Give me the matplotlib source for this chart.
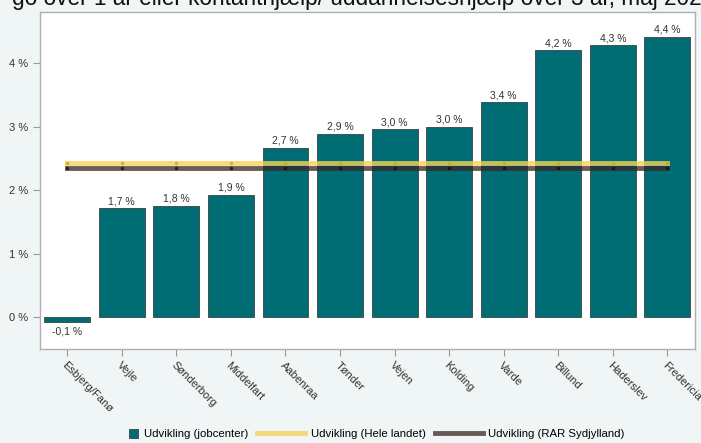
import matplotlib.pyplot as plt
import matplotlib.patches as mpatches
from matplotlib.lines import Line2D
from matplotlib.legend_handler import HandlerPatch

plt.rcParams['font.family'] = ['Liberation Sans', 'DejaVu Sans']

# data
kommuner = ['Esbjerg/Fanø', 'Vejle', 'Sønderborg', 'Middelfart', 'Aabenraa', 'Tønder',
            'Vejen', 'Kolding', 'Varde', 'Billund', 'Haderslev', 'Fredericia']
udv_jobcenter = [-0.08, 1.72, 1.76, 1.93, 2.67, 2.89, 2.96, 3.0, 3.39, 4.21, 4.29, 4.42]
bar_labels = ['-0,1 %', '1,7 %', '1,8 %', '1,9 %', '2,7 %', '2,9 %', '3,0 %', '3,0 %',
              '3,4 %', '4,2 %', '4,3 %', '4,4 %']
udv_hele_landet = [2.43] * 12
udv_rar = [2.36] * 12
y_ticks = [0, 1, 2, 3, 4]
y_ticklabels = ['0 %', '1 %', '2 %', '3 %', '4 %']

bg = '#f0f5f5'
bar_color = '#006c74'
yellow = '#f5d35a'
brown = '#3a2424'
fig = plt.figure(figsize=(7.01, 4.43), dpi=100, facecolor=bg)
ax = fig.add_axes([0.057, 0.212, 0.934, 0.761])
ax.set_facecolor('white')

x = list(range(len(kommuner)))
ax.bar(x, udv_jobcenter, width=0.84, color=bar_color, edgecolor='#404040',
       linewidth=0.6, zorder=2)
ax.plot(x, udv_hele_landet, color=yellow, alpha=0.8, linewidth=3.5, marker='o',
        markersize=2.5, markerfacecolor='#c8a820', markeredgewidth=0, zorder=3)
ax.plot(x, udv_rar, color=brown, alpha=0.75, linewidth=3.5, marker='o',
        markersize=2.5, markerfacecolor='#1a0a0a', markeredgewidth=0, zorder=3)

# value labels
for xi, v, lab in zip(x, udv_jobcenter, bar_labels):
    if v < 0:
        ax.text(xi, v - 0.06, lab, ha='center', va='top', fontsize=7.5, color='#333333')
    else:
        ax.text(xi, v + 0.03, lab, ha='center', va='bottom', fontsize=7.5, color='#333333')

ax.set_xlim(-0.5, 11.5)
ax.set_ylim(-0.5, 4.81)
ax.set_yticks(y_ticks)
ax.set_yticklabels(y_ticklabels, fontsize=8, color='#333333')
ax.set_xticks(x)
ax.set_xticklabels(kommuner, rotation=-45, ha='left', va='top', rotation_mode='anchor',
                   fontsize=8, color='#333333')
ax.tick_params(axis='both', colors='#999999', labelcolor='#333333', length=5, width=0.8)
ax.tick_params(axis='x', pad=3)
for s in ax.spines.values():
    s.set_color('#b0b0b0')
    s.set_linewidth(1)

# title (cut off at the top in the original)
fig.text(0.017, 1.005, 'go over 1 år eller kontanthjælp/ uddannelseshjælp over 3 år, maj 2023',
         fontsize=16.3, ha='left', va='center', color='#111111')


def small_square(legend, orig_handle, xdescent, ydescent, width, height, fontsize):
    s = height * 1.2
    return mpatches.Rectangle((width - s - xdescent, -ydescent - 0.1 * height), s, s)


# legend: small square for the bars, long lines for the others
bar_proxy = mpatches.Patch(facecolor=bar_color, edgecolor='#404040', linewidth=0.6)
line1_proxy = Line2D([], [], color=yellow, alpha=0.8, linewidth=3.5)
line2_proxy = Line2D([], [], color=brown, alpha=0.75, linewidth=3.5)
fig.legend([bar_proxy, line1_proxy, line2_proxy],
           ['Udvikling (jobcenter)', 'Udvikling (Hele landet)', 'Udvikling (RAR Sydjylland)'],
           loc='lower center', bbox_to_anchor=(0.51, -0.015), ncol=3, frameon=False,
           fontsize=8.2, handlelength=4.2, columnspacing=0.8, handletextpad=0.5,
           handler_map={bar_proxy: HandlerPatch(patch_func=small_square)})

fig.savefig('out.png', dpi=100, facecolor=bg)
